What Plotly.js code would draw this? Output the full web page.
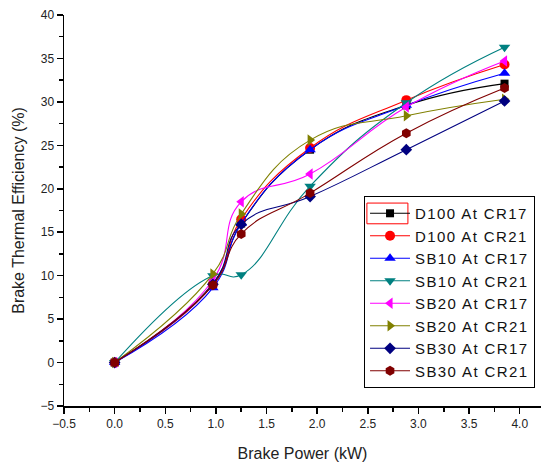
<!DOCTYPE html>
<html><head><meta charset="utf-8">
<script src="https://cdn.plot.ly/plotly-3.0.1.min.js"></script>
<style>body{margin:0;background:#fff}#c{width:541px;height:464px}.legendtext{letter-spacing:1.4px}</style>
</head><body><div id="c"></div>
<script>
const brakePower = [0.0, 0.97, 1.25, 1.93, 2.88, 3.85];
const seriesNames = ["D100 At CR17","D100 At CR21","SB10 At CR17","SB10 At CR21","SB20 At CR17","SB20 At CR21","SB30 At CR17","SB30 At CR21"];
const d100cr17 = [0, 9.1, 16.0, 24.5, 29.6, 32.1];
const d100cr21 = [0, 9.0, 16.5, 24.7, 30.2, 34.3];
const sb10cr17 = [0, 8.6, 16.0, 24.5, 29.6, 33.3];
const sb10cr21 = [0, 10.0, 10.1, 20.3, 29.9, 36.3];
const sb20cr17 = [0, 9.5, 18.5, 21.7, 29.4, 34.7];
const sb20cr21 = [0, 10.2, 17.1, 25.6, 28.4, 30.3];
const sb30cr17 = [0, 9.0, 15.9, 19.1, 24.5, 30.1];
const sb30cr21 = [0, 8.9, 14.8, 19.5, 26.4, 31.6];
const allSeries = [d100cr17, d100cr21, sb10cr17, sb10cr21, sb20cr17, sb20cr21, sb30cr17, sb30cr21];
const colors = ["#000000","#ff0000","#0000ff","#008080","#ff00ff","#808000","#000080","#800000"];
const symbols = ["square","circle","triangle-up","triangle-down","triangle-left","triangle-right","diamond","hexagon"];
const sizes = [8,10,10,10,10,10,9,10];

const traces = allSeries.map((ys,i)=>({
  x: brakePower, y: ys, name: seriesNames[i], type:'scatter', mode:'lines+markers',
  line:{color:colors[i], width:1.1, shape:'spline', smoothing:1.3},
  marker:{color:colors[i], symbol:symbols[i], size:sizes[i]}
}));

const font = "Liberation Sans, Arial, sans-serif";
const layout = {
  width:541, height:464,
  margin:{l:64, r:0, t:15, b:58},
  paper_bgcolor:'#fff', plot_bgcolor:'#fff',
  showlegend:true,
  legend:{x:0.629, y:0.537, xanchor:'left', yanchor:'top', bgcolor:'rgba(255,255,255,0)',
    bordercolor:'#000', borderwidth:1, font:{family:font, size:15, color:'#111'},
    tracegroupgap:0, itemwidth:40},
  shapes:[{type:'rect', xref:'paper', yref:'paper', x0:0.635, x1:0.721, y0:0.466, y1:0.519,
    line:{color:'#ff0000', width:1}, layer:'above'}],
  xaxis:{range:[-0.5,4.21], tick0:-0.5, dtick:0.5, tickformat:'.1f',
    showgrid:false, zeroline:false, showline:true, linecolor:'#000', linewidth:1.5,
    ticks:'outside', ticklen:6, tickcolor:'#000', tickwidth:1.5,
    minor:{dtick:0.25, tick0:-0.5, ticks:'outside', ticklen:4, tickcolor:'#000', tickwidth:1.5},
    tickfont:{family:font, size:12, color:'#222'},
    title:{text:'Brake Power (kW)', font:{family:font, size:16, color:'#222'}, standoff:18}},
  yaxis:{range:[-5,40], dtick:5, tick0:0,
    showgrid:false, zeroline:false, showline:true, linecolor:'#000', linewidth:1.5,
    ticks:'outside', ticklen:6, tickcolor:'#000', tickwidth:1.5,
    minor:{dtick:2.5, ticks:'outside', ticklen:4, tickcolor:'#000', tickwidth:1.5},
    tickfont:{family:font, size:12, color:'#222'},
    title:{text:'Brake Thermal Efficiency (%)', font:{family:font, size:16, color:'#222'}, standoff:12}}
};
Plotly.newPlot('c', traces, layout, {displayModeBar:false, staticPlot:true});
</script></body></html>
